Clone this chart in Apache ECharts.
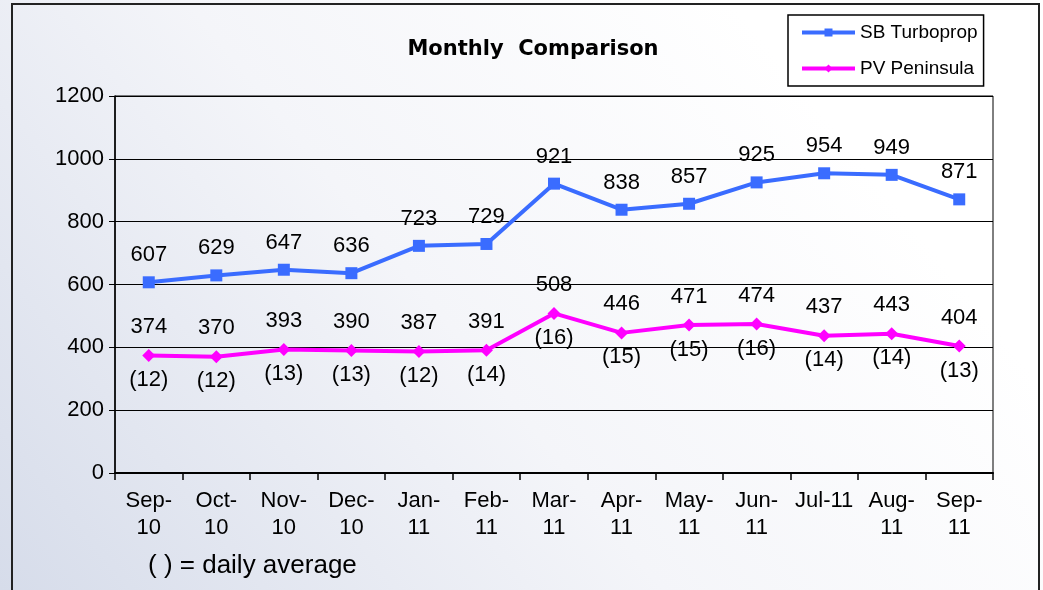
<!DOCTYPE html>
<html>
<head>
<meta charset="utf-8">
<script src="https://cdn.jsdelivr.net/npm/echarts@6/dist/echarts.min.js"></script>
<style>
  html, body { margin: 0; padding: 0; }
  #chart { width: 1043px; height: 590px; }
</style>
</head>
<body>
<div id="chart"></div>
<script>
const months = ['Sep-\n10', 'Oct-\n10', 'Nov-\n10', 'Dec-\n10', 'Jan-\n11', 'Feb-\n11', 'Mar-\n11',
  'Apr-\n11', 'May-\n11', 'Jun-\n11', 'Jul-11', 'Aug-\n11', 'Sep-\n11']
const sbTurboprop = [607, 629, 647, 636, 723, 729, 921, 838, 857, 925, 954, 949, 871]
const pvPeninsula = [374, 370, 393, 390, 387, 391, 508, 446, 471, 474, 437, 443, 404]
const pvDailyAvg = [12, 12, 13, 13, 12, 14, 16, 15, 15, 16, 14, 14, 13]

const font = 'Liberation Sans, Arial, sans-serif'

const myChart = echarts.init(document.getElementById('chart'))
const option = {
  animation: false,
  backgroundColor: {
    type: 'linear', x: 0, y: 1, x2: 0.7, y2: 0,
    colorStops: [
      {offset: 0, color: '#d6dcea'},
      {offset: 0.55, color: '#f4f5f9'},
      {offset: 1, color: '#ffffff'}
    ]
  },
  title: {
    text: 'Monthly  Comparison',
    left: 528,
    textAlign: 'center',
    top: 34,
    textStyle: {fontFamily: 'DejaVu Sans', fontSize: 21, fontWeight: 'bold', color: '#000'}
  },
  legend: {
    data: ['SB Turboprop', 'PV Peninsula'],
    orient: 'vertical',
    left: 788,
    top: 15,
    padding: [8, 6, 8, 12],
    itemGap: 17,
    itemWidth: 53,
    itemHeight: 10,
    itemTextGap: 4,
    borderColor: '#000',
    borderWidth: 1.5,
    backgroundColor: '#fff',
    lineStyle: {width: 4},
    textStyle: {fontFamily: font, fontSize: 19, color: '#000'}
  },
  grid: {
    left: 115,
    top: 96,
    width: 878,
    height: 377,
    show: true,
    borderColor: '#000',
    borderWidth: 1,
    containLabel: false
  },
  xAxis: {
    type: 'category',
    data: months,
    boundaryGap: true,
    axisLine: {lineStyle: {color: '#000', width: 2}},
    axisTick: {show: true, length: 7, lineStyle: {color: '#000', width: 1.5}},
    axisLabel: {
      interval: 0,
      margin: 14,
      fontFamily: font,
      fontSize: 22,
      lineHeight: 27,
      color: '#000'
    }
  },
  yAxis: {
    type: 'value',
    min: 0,
    max: 1200,
    interval: 200,
    axisLine: {show: true, lineStyle: {color: '#000', width: 1.5}},
    axisTick: {show: true, length: 6, lineStyle: {color: '#000'}},
    axisLabel: {margin: 11, fontFamily: font, fontSize: 22, color: '#000', formatter: v => String(v)},
    splitLine: {lineStyle: {color: '#000', width: 1}}
  },
  series: [
    {
      name: 'SB Turboprop',
      type: 'line',
      data: sbTurboprop,
      symbol: 'rect',
      symbolSize: 12,
      lineStyle: {color: '#3a6cff', width: 4},
      itemStyle: {color: '#3a6cff'},
      label: {
        show: true,
        position: 'top',
        distance: 10,
        fontFamily: font,
        fontSize: 22,
        color: '#000'
      }
    },
    {
      name: 'PV Peninsula',
      type: 'line',
      data: pvPeninsula,
      symbol: 'diamond',
      symbolSize: 13,
      lineStyle: {color: '#ff00ff', width: 4},
      itemStyle: {color: '#ff00ff'},
      label: {
        show: true,
        position: 'top',
        distance: 11,
        fontFamily: font,
        fontSize: 22,
        color: '#000'
      }
    },
    {
      name: 'daily',
      type: 'line',
      data: pvDailyAvg.map((d, i) => ({value: pvPeninsula[i], avg: d})),
      symbol: 'circle',
      symbolSize: 13,
      silent: true,
      z: 1,
      lineStyle: {opacity: 0},
      itemStyle: {color: 'transparent'},
      label: {
        show: true,
        position: 'bottom',
        distance: 7,
        fontFamily: font,
        fontSize: 22,
        color: '#000',
        formatter: p => '(' + p.data.avg + ')'
      }
    }
  ],
  graphic: [
    {
      type: 'rect',
      shape: {x: 12, y: 4, width: 1027, height: 620},
      style: {fill: 'transparent', stroke: '#222', lineWidth: 2},
      silent: true
    },
    {
      type: 'text',
      left: 148,
      top: 553,
      style: {text: '( ) = daily average', font: '26px ' + font, fill: '#000'}
    }
  ]
}
myChart.setOption(option)
</script>
</body>
</html>
